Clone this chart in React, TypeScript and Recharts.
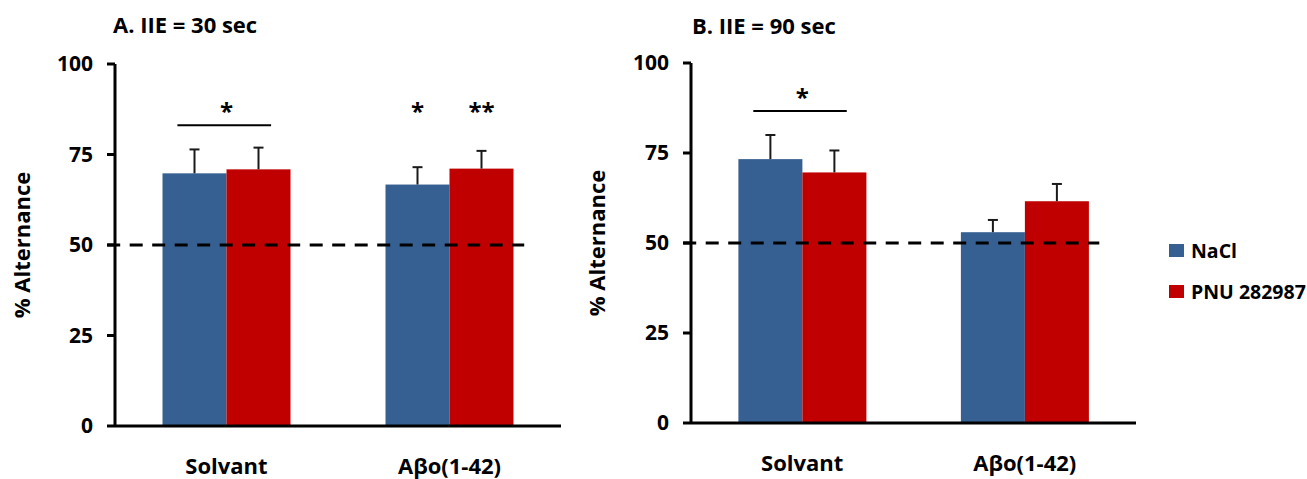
import React from 'react';
import {
    BarChart,
    Bar,
    XAxis,
    YAxis,
    ReferenceLine,
    ReferenceDot
} from 'recharts';

const FONT = "'Open Sans', 'Noto Sans', sans-serif";
const BLUE = '#376092';
const RED = '#C00000';

const categories = ['Solvant', 'Aβo(1-42)'];
const seriesNames = ['NaCl', 'PNU 282987'];
const yTicks = [0, 25, 50, 75, 100];

// A. IIE = 30 sec
const naclA = [69.8, 66.7];
const naclErrA = [6.6, 4.8];
const pnuA = [70.9, 71.1];
const pnuErrA = [6.0, 4.9];

// B. IIE = 90 sec
const naclB = [73.3, 53.0];
const naclErrB = [6.7, 3.4];
const pnuB = [69.6, 61.6];
const pnuErrB = [6.1, 4.8];

// chance level (dashed line)
const chanceLevel = 50;

// significance marks: cat = category index, over = 'group' | 'nacl' | 'pnu'
const bracketA = { cat: 0, y: 83.1 };
const bracketB = { cat: 0, y: 86.7 };
const starsA = [
    { cat: 0, over: 'group', text: '*', y: 87 },
    { cat: 1, over: 'nacl', text: '*', y: 87 },
    { cat: 1, over: 'pnu', text: '**', y: 87 }
];
const starsB = [{ cat: 0, over: 'group', text: '*', y: 90.4 }];

// band layout (fraction of a category band)
const CAT_GAP = 0.213;
const BAR_W = (1 - 2 * CAT_GAP) / 2;
const BRACKET_SPAN = [0.28, 0.7];
const CHANCE_SPAN = [-0.035, 1.835];

const starX = (cat: number, over: string) => {
    if (over === 'nacl') return cat + 0.5 - BAR_W / 2;
    if (over === 'pnu') return cat + 0.5 + BAR_W / 2;
    return cat + 0.5;
};

// bar + upper SEM whisker (only the upper half shows, like the original)
const barWithWhisker = (valKey: string, errKey: string) => (props: any) => {
    const { x, y, width, height, fill, payload } = props;
    const v = payload[valKey];
    const err = payload[errKey];
    const pxPerUnit = v ? height / v : 0;
    const top = y - err * pxPerUnit;
    const cx = x + width / 2;
    return (
        <g>
            <rect x={x} y={y} width={width} height={height} fill={fill} />
            <line x1={cx} y1={y} x2={cx} y2={top} stroke="#1a1a1a" strokeWidth={2} />
            <line x1={cx - 5} y1={top} x2={cx + 5} y2={top} stroke="#1a1a1a" strokeWidth={2} />
        </g>
    );
};

interface PanelProps {
    title: string;
    nacl: number[];
    naclErr: number[];
    pnu: number[];
    pnuErr: number[];
    bracket: { cat: number; y: number };
    stars: { cat: number; over: string; text: string; y: number }[];
    left: number;
    width: number;
    yAxisWidth: number;
    top: number;
    right: number;
    xAxisHeight: number;
    yLabelDx: number;
    titleLeft: number;
    titleTop: number;
}

const Panel: React.FC<PanelProps> = (p) => {
    const data = categories.map((name, i) => ({
        name,
        pos: i + 0.5,
        nacl: p.nacl[i],
        naclErr: p.naclErr[i],
        pnu: p.pnu[i],
        pnuErr: p.pnuErr[i]
    }));

    const axisStyle = { stroke: '#000', strokeWidth: 3 };

    return (
        <div style={{ position: 'absolute', left: p.left, top: 0, width: p.width, height: 479 }}>
            <div
                style={{
                    position: 'absolute',
                    left: p.titleLeft,
                    top: p.titleTop,
                    fontSize: 22,
                    lineHeight: '22px',
                    fontWeight: 700,
                    whiteSpace: 'nowrap',
                    zIndex: 2
                }}
            >
                {p.title}
            </div>
            <BarChart
                width={p.width}
                height={479}
                data={data}
                margin={{ top: p.top, right: p.right, bottom: 0, left: 0 }}
                barCategoryGap={`${CAT_GAP * 100}%`}
                barGap={0}
            >
                <XAxis
                    dataKey="name"
                    height={p.xAxisHeight}
                    axisLine={axisStyle}
                    tickLine={false}
                    tickSize={0}
                    tickMargin={32}
                    tick={{ fill: '#000', fontSize: 22, fontWeight: 700 }}
                    interval={0}
                />
                {/* hidden linear axis in "band units" for the annotations */}
                <XAxis
                    xAxisId="ann"
                    dataKey="pos"
                    type="number"
                    domain={[0, categories.length]}
                    allowDataOverflow
                    height={0}
                    hide
                />
                <YAxis
                    width={p.yAxisWidth}
                    domain={[0, 100]}
                    ticks={yTicks}
                    interval={0}
                    axisLine={axisStyle}
                    tickLine={axisStyle}
                    tickSize={8}
                    tickMargin={14}
                    tick={{ fill: '#000', fontSize: 21, fontWeight: 700 }}
                    label={{
                        value: '% Alternance',
                        angle: -90,
                        position: 'center',
                        dx: p.yLabelDx,
                        fill: '#000',
                        fontSize: 22,
                        fontWeight: 700
                    }}
                />
                <Bar
                    dataKey="nacl"
                    name={seriesNames[0]}
                    fill={BLUE}
                    shape={barWithWhisker('nacl', 'naclErr')}
                    isAnimationActive={false}
                />
                <Bar
                    dataKey="pnu"
                    name={seriesNames[1]}
                    fill={RED}
                    shape={barWithWhisker('pnu', 'pnuErr')}
                    isAnimationActive={false}
                />
                <ReferenceLine
                    xAxisId="ann"
                    segment={[
                        { x: CHANCE_SPAN[0], y: chanceLevel },
                        { x: CHANCE_SPAN[1], y: chanceLevel }
                    ]}
                    stroke="#000"
                    strokeWidth={3}
                    strokeDasharray="13 9.5"
                    ifOverflow="visible"
                />
                <ReferenceLine
                    xAxisId="ann"
                    segment={[
                        { x: p.bracket.cat + BRACKET_SPAN[0], y: p.bracket.y },
                        { x: p.bracket.cat + BRACKET_SPAN[1], y: p.bracket.y }
                    ]}
                    stroke="#000"
                    strokeWidth={2}
                    ifOverflow="visible"
                />
                {p.stars.map((s, i) => (
                    <ReferenceDot
                        key={i}
                        xAxisId="ann"
                        x={starX(s.cat, s.over)}
                        y={s.y}
                        r={0}
                        fill="none"
                        stroke="none"
                        ifOverflow="visible"
                        label={{
                            value: s.text,
                            position: 'center',
                            fill: '#000',
                            fontSize: 24,
                            fontWeight: 700
                        }}
                    />
                ))}
            </BarChart>
        </div>
    );
};

export default function App() {
    const legendColors = [BLUE, RED];
    return (
        <div
            style={{
                position: 'absolute',
                left: 0,
                top: 0,
                width: 1307,
                height: 479,
                background: '#fff',
                fontFamily: FONT,
                overflow: 'hidden'
            }}
        >
            <Panel
                title="A. IIE = 30 sec"
                nacl={naclA}
                naclErr={naclErrA}
                pnu={pnuA}
                pnuErr={pnuErrA}
                bracket={bracketA}
                stars={starsA}
                left={0}
                width={580}
                yAxisWidth={115}
                top={64}
                right={19}
                xAxisHeight={53}
                yLabelDx={-35.5}
                titleLeft={113}
                titleTop={13}
            />
            <Panel
                title="B. IIE = 90 sec"
                nacl={naclB}
                naclErr={naclErrB}
                pnu={pnuB}
                pnuErr={pnuErrB}
                bracket={bracketB}
                stars={starsB}
                left={580}
                width={727}
                yAxisWidth={111}
                top={63}
                right={171}
                xAxisHeight={56}
                yLabelDx={-38.5}
                titleLeft={112}
                titleTop={14}
            />
            <div
                style={{
                    position: 'absolute',
                    left: 1169,
                    top: 230,
                    fontWeight: 700,
                    fontSize: 19.5,
                    color: '#000'
                }}
            >
                {seriesNames.map((name, i) => (
                    <div
                        key={name}
                        style={{ display: 'flex', alignItems: 'center', height: 41, whiteSpace: 'nowrap' }}
                    >
                        <span
                            style={{
                                width: 15,
                                height: 13,
                                background: legendColors[i],
                                marginRight: 7,
                                display: 'inline-block'
                            }}
                        />
                        <span>{name}</span>
                    </div>
                ))}
            </div>
        </div>
    );
}
